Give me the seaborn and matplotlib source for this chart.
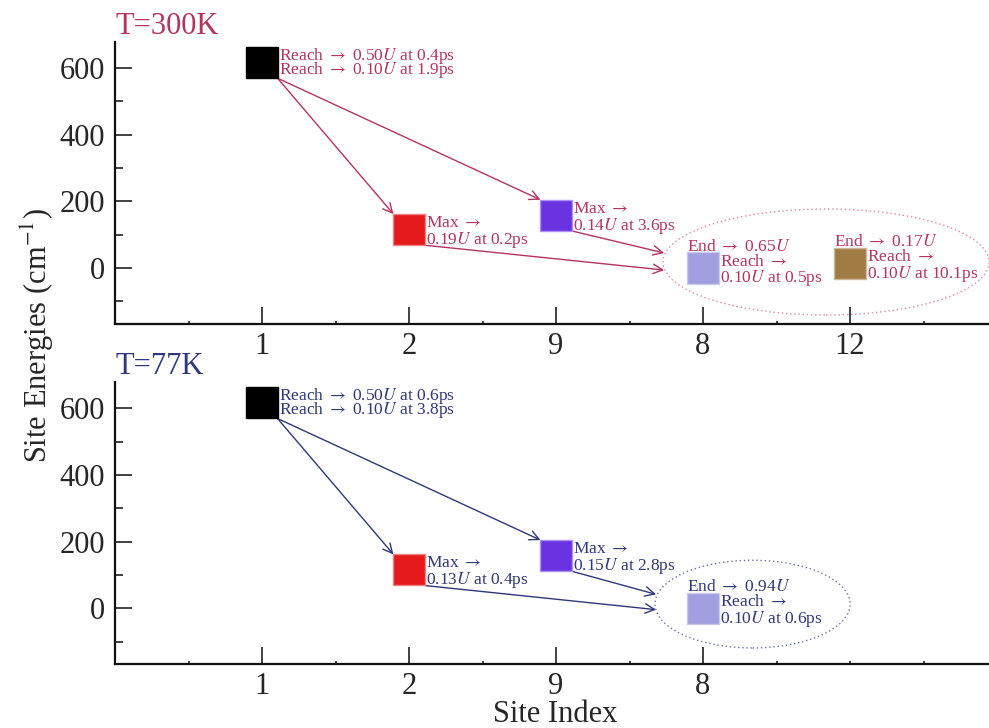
import matplotlib
matplotlib.use("Agg")
import matplotlib.pyplot as plt
import matplotlib.colors as mcolors
import pandas as pd
import seaborn as sns
from matplotlib.patches import Ellipse
from matplotlib.transforms import ScaledTranslation

# ---- data -------------------------------------------------------------
sites = ["1", "2", "9", "8", "12"]
site_energies = [616, 115, 158, 0, 14]          # cm^-1
site_colors = ["#000000", "#e41a1c", "#6a33e2", "#a09fdf", "#a07c45"]

sites_300 = ["1", "2", "9", "8", "12"]
sites_77 = ["1", "2", "9", "8"]

# decay of the initially excited site: (population fraction, time in ps)
first_reach_300 = [("0.50", "0.4"), ("0.10", "1.9")]
first_reach_77 = [("0.50", "0.6"), ("0.10", "3.8")]

# maximum population of intermediate sites: (fraction, time in ps)
max_pop_300 = {"2": ("0.19", "0.2"), "9": ("0.14", "3.6")}
max_pop_77 = {"2": ("0.13", "0.4"), "9": ("0.15", "2.8")}

# terminal sites: (final fraction, reached fraction, time in ps)
end_pop_300 = {"8": ("0.65", "0.10", "0.5"), "12": ("0.17", "0.10", "10.1")}
end_pop_77 = {"8": ("0.94", "0.10", "0.6")}

transfer_paths = [("1", "2"), ("1", "9")]
sink_paths = ["9", "2"]

# ---- style ------------------------------------------------------------
sns.set_style("ticks")
plt.rcParams["font.family"] = ["Liberation Serif", "DejaVu Serif"]
plt.rcParams["mathtext.fontset"] = "stix"

FIG_W, FIG_H = 989, 728
fig = plt.figure(figsize=(FIG_W / 100, FIG_H / 100), dpi=100)

MARKER_S = 500
HALF = MARKER_S ** 0.5 / 2          # half side of square marker, points
TXT = 12.5

pos_of = {s: i + 1 for i, s in enumerate(sites)}
energy_of = dict(zip(sites, site_energies))
color_of = dict(zip(sites, site_colors))


def lighten(c, f=0.45):
    r, g, b = mcolors.to_rgb(c)
    return (r + (1 - r) * f, g + (1 - g) * f, b + (1 - b) * f)


def offset_trans(ax, dx, dy):
    return ax.transData + ScaledTranslation(dx / 72, dy / 72, fig.dpi_scale_trans)


def draw_panel(ax, shown, title, tcolor, ecolor, first_reach, max_pop, end_pop,
               ell, sink_dy, extra_minor):
    df = pd.DataFrame({
        "site": shown,
        "pos": [pos_of[s] for s in shown],
        "energy": [energy_of[s] for s in shown],
    })
    sns.scatterplot(data=df, x="pos", y="energy", hue="site",
                    palette={s: color_of[s] for s in shown}, marker="s",
                    s=MARKER_S, linewidth=1, legend=False, ax=ax, zorder=3)
    coll = ax.collections[-1]
    coll.set_edgecolors([lighten(color_of[s]) if s != "1" else "#000000"
                         for s in shown])

    ax.set_xlim(0, 6)
    ax.set_ylim(-168, 678)
    ax.set_xticks([pos_of[s] for s in shown])
    ax.set_xticklabels(shown)
    ax.set_xticks([0.5, 1.5, 2.5, 3.5, 4.5, 5.5] + extra_minor, minor=True)
    ax.set_yticks([0, 200, 400, 600])
    ax.set_yticks([-100, 100, 300, 500], minor=True)
    ax.set_xlabel("")
    ax.set_ylabel("")
    sns.despine(ax=ax)
    for sp in ("left", "bottom"):
        ax.spines[sp].set_linewidth(1.6)
        ax.spines[sp].set_color("#111111")
    ax.tick_params(which="major", direction="in", length=12, width=1.3,
                   color="#333333", labelsize=22, pad=7)
    ax.tick_params(axis="x", which="major", pad=5.5)
    ax.tick_params(axis="y", which="minor", direction="in", length=6,
                   width=1.3, color="#333333")
    ax.tick_params(axis="x", which="minor", direction="in", length=2.5,
                   width=1.3, color="#333333")

    ax.text(0, 1 + 8 / 282, title, transform=ax.transAxes, ha="left",
            va="baseline", fontsize=22, color=tcolor)

    # sink ellipse
    cx, cy, w, h = ell
    ax.add_patch(Ellipse((cx, cy), w, h, fill=False, ec=ecolor, lw=1.0,
                         ls=(0, (1, 2)), clip_on=False, zorder=2))

    arrow_kw = dict(arrowstyle="->", color=tcolor, lw=1.0, shrinkA=0,
                    shrinkB=0, mutation_scale=17)
    for a, b in transfer_paths:
        ax.annotate("", xy=(pos_of[b], energy_of[b]),
                    xycoords=offset_trans(ax, -HALF, HALF),
                    xytext=(pos_of[a], energy_of[a]),
                    textcoords=offset_trans(ax, HALF, -HALF),
                    arrowprops=arrow_kw, zorder=2)
    for a, dy in zip(sink_paths, sink_dy):
        ax.annotate("", xy=(cx - w / 2, cy),
                    xycoords=offset_trans(ax, 0.8, dy),
                    xytext=(pos_of[a], energy_of[a]),
                    textcoords=offset_trans(ax, HALF, -HALF),
                    arrowprops=arrow_kw, zorder=2)

    def label(site, text, dx, dy):
        ax.annotate(text, xy=(pos_of[site], energy_of[site]),
                    xytext=(dx, dy), textcoords="offset points", ha="left",
                    va="baseline", fontsize=TXT, color=tcolor, zorder=4)

    dx_r = HALF + 1.0
    for (frac, t), dy in zip(first_reach, [1.8, -8.3]):
        label("1", rf"Reach $\rightarrow$ {frac}$U$ at {t}ps", dx_r, dy)
    for s, (frac, t) in max_pop.items():
        label(s, r"Max $\rightarrow$", dx_r, 1.8)
        label(s, rf"{frac}$U$ at {t}ps", dx_r, -10.4)
    for s, (fin, frac, t) in end_pop.items():
        label(s, rf"End $\rightarrow$ {fin}$U$", -HALF - 0.3, 12.2)
        label(s, r"Reach $\rightarrow$", dx_r, 1.8)
        label(s, rf"{frac}$U$ at {t}ps", dx_r, -10.4)


ax_top = fig.add_axes([115 / FIG_W, 1 - 324 / FIG_H, 882 / FIG_W, 282 / FIG_H])
ax_bot = fig.add_axes([115 / FIG_W, 1 - 664.3 / FIG_H, 882 / FIG_W, 282 / FIG_H])

draw_panel(ax_top, sites_300, "T=300K", "#b3345f", "#d98aa6",
           first_reach_300, max_pop_300, end_pop_300,
           (4.837, 18, 2.218, 318), [6.5, -5.8], [])
draw_panel(ax_bot, sites_77, "T=77K", "#2f3878", "#6d74a6",
           first_reach_77, max_pop_77, end_pop_77,
           (4.337, 12.6, 1.327, 263), [7.0, -4.0], [5.0])

fig.text(37 / FIG_W, 1 - 336 / FIG_H, "Site Energies (cm$^{-1}$)",
         rotation=90, ha="center", va="center", fontsize=22)
fig.text(555 / FIG_W, 1 - 721.5 / FIG_H, "Site Index", ha="center",
         va="baseline", fontsize=22)

fig.savefig("out.png", dpi=100)
